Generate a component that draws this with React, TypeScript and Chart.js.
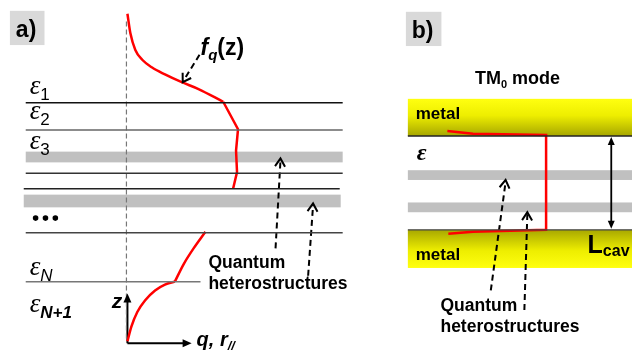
import React, { useEffect, useRef } from 'react';
import { Chart, registerables } from 'chart.js';
Chart.register(...registerables);

type P = [number, number];

// ---------- Panel a data (diagram units: x = q / r//, y = depth z, top-down) ----------
const boundaryZ = [101, 129, 173, 189, 234, 284];
const boundaryFrom = [22, 22, 22, 20, 22, 22];
const boundaryTo = [343, 343, 343, 340, 343, 199];
const qhBandTopA = [151, 195];
const qhBandBottomA = [162, 208];
const qhBandFromA = [22, 20];
const qhBandToA = [343, 341];

const fqDecayTop: P[] = [[125, 10], [128, 30], [133, 47], [140, 57], [150, 65], [163, 72], [180, 80], [197, 87], [222, 100]];
const fqInside: P[] = [[222, 100], [237, 128], [235, 150], [236, 172], [232, 189]];
const fqLowerA: P[] = [[204, 233], [192, 250], [182, 266], [173, 284]];
const fqLowerB: P[] = [[125, 345], [129, 330], [135, 315], [143, 303], [153, 293], [163, 287], [173, 284]];
const ellipsisDots: P[] = [[32, 219], [42, 219], [52, 219]];
const epsSubsA = ['1', '2', '3', 'N', 'N+1'];
const epsBaselineA = [92, 118, 148, 277, 315];

// ---------- Panel b data ----------
const metalTopB = [97, 135];
const metalBottomB = [231, 270];
const qhBandTopB = [170, 203];
const qhBandBottomB = [180, 213];
const tm0Profile: P[] = [[449, 130], [475, 132.6], [549, 134], [549, 231], [475, 233], [450, 235]];

const W = 636, H = 358;
const SANS = "'Liberation Sans', Arial, sans-serif";
const SERIF = "'Liberation Serif', 'DejaVu Serif', serif";

const pts = (a: P[]) => a.map(([x, y]) => ({ x, y }));
const seg = (data: P[], color: string, width: number, extra: any = {}) => ({
  data: pts(data), showLine: true, borderColor: color, borderWidth: width,
  pointRadius: 0, fill: false, tension: 0, ...extra,
});

const diagramPlugin = {
  id: 'diagram',
  beforeDatasetsDraw(chart: any) {
    const { ctx, scales } = chart;
    const px = (v: number) => scales.x.getPixelForValue(v);
    const py = (v: number) => scales.y.getPixelForValue(v);
    const rect = (x0: number, y0: number, x1: number, y1: number, fill: any) => {
      ctx.fillStyle = fill;
      ctx.fillRect(px(x0), py(y0), px(x1) - px(x0), py(y1) - py(y0));
    };
    ctx.save();
    rect(6, 7, 41, 42, '#d9d9d9');
    rect(407, 8, 443, 43, '#d9d9d9');
    qhBandTopA.forEach((t, i) => rect(qhBandFromA[i], t, qhBandToA[i], qhBandBottomA[i], '#c0c0c0'));
    qhBandTopB.forEach((t, i) => rect(409, t, 636, qhBandBottomB[i], '#c0c0c0'));
    const g1 = ctx.createLinearGradient(0, py(metalTopB[0]), 0, py(metalTopB[1]));
    g1.addColorStop(0, '#ffff10');
    g1.addColorStop(0.45, '#eeee00');
    g1.addColorStop(1, '#a6a600');
    rect(409, metalTopB[0], 636, metalTopB[1], g1);
    const g2 = ctx.createLinearGradient(0, py(metalBottomB[0]), 0, py(metalBottomB[1]));
    g2.addColorStop(0, '#a8a800');
    g2.addColorStop(0.55, '#eeee00');
    g2.addColorStop(1, '#ffff10');
    rect(409, metalBottomB[0], 636, metalBottomB[1], g2);
    ctx.restore();
  },
  afterDatasetsDraw(chart: any) {
    const { ctx, scales } = chart;
    const px = (v: number) => scales.x.getPixelForValue(v);
    const py = (v: number) => scales.y.getPixelForValue(v);
    ctx.save();
    const head = (x0: number, y0: number, x1: number, y1: number, filled: boolean, len = 9, half = 4.5) => {
      const ax = px(x0), ay = py(y0), bx = px(x1), by = py(y1);
      const d = Math.hypot(bx - ax, by - ay);
      const ux = (bx - ax) / d, uy = (by - ay) / d;
      const lx = bx - ux * len - uy * half, ly = by - uy * len + ux * half;
      const rx = bx - ux * len + uy * half, ry = by - uy * len - ux * half;
      ctx.setLineDash([]);
      ctx.strokeStyle = '#000';
      ctx.fillStyle = '#000';
      ctx.lineWidth = 2;
      ctx.beginPath();
      if (filled) {
        ctx.moveTo(bx, by); ctx.lineTo(lx, ly); ctx.lineTo(rx, ry); ctx.closePath(); ctx.fill();
      } else {
        ctx.moveTo(lx, ly); ctx.lineTo(bx, by); ctx.lineTo(rx, ry); ctx.stroke();
      }
    };
    head(198, 52, 181, 80, false, 8, 5);
    head(275, 250, 280, 158, false, 8, 5);
    head(308, 278, 313, 204, false, 8, 5);
    head(493, 293, 508, 180, false, 8, 5);
    head(527, 313, 530, 213, false, 8, 5);
    head(125, 347, 125, 296, true, 9, 4);
    head(125, 347, 190, 347, true, 9, 4);
    head(615, 180, 615, 136, true, 8, 3.5);
    head(615, 180, 615, 230, true, 8, 3.5);

    const runs = (x: number, y: number, parts: [string, string, number?][], color = '#000') => {
      let cx = px(x);
      ctx.fillStyle = color;
      ctx.textBaseline = 'alphabetic';
      ctx.textAlign = 'left';
      for (const [t, f, dy] of parts) {
        ctx.font = f;
        ctx.fillText(t, cx, py(y + (dy || 0)));
        cx += ctx.measureText(t).width;
      }
    };
    runs(12, 34, [['a)', `bold 23px ${SANS}`]]);
    runs(413, 35, [['b)', `bold 23px ${SANS}`]]);
    runs(199, 52, [['f', `italic bold 23px ${SANS}`], ['q', `italic bold 15px ${SANS}`, 5], ['(z)', `bold 23px ${SANS}`]]);
    epsSubsA.forEach((s, i) => {
      const sub = s.startsWith('N') ? (s === 'N' ? `italic 17px ${SANS}` : `italic bold 17px ${SANS}`) : `17px ${SANS}`;
      runs(26, epsBaselineA[i], [['ε', `italic 27px ${SERIF}`], [s, sub, 6]]);
    });
    runs(207, 270, [['Quantum', `bold 17.5px ${SANS}`]]);
    runs(207, 292, [['heterostructures', `bold 17.5px ${SANS}`]]);
    runs(109, 311, [['z', `italic bold 21px ${SANS}`]]);
    runs(195, 350, [['q, r', `italic bold 20px ${SANS}`], ['//', `italic bold 13px ${SANS}`, 4]]);
    runs(477, 82, [['TM', `bold 18px ${SANS}`], ['0', `bold 11px ${SANS}`, 4], [' mode', `bold 18px ${SANS}`]]);
    runs(417, 118, [['metal', `bold 17px ${SANS}`]]);
    runs(417, 262, [['metal', `bold 17px ${SANS}`]]);
    runs(418, 160, [['ε', `italic bold 24px ${SERIF}`]]);
    runs(591, 255, [['L', `bold 25px ${SANS}`], ['cav', `bold 16px ${SANS}`, 3]]);
    runs(442, 314, [['Quantum', `bold 17.5px ${SANS}`]]);
    runs(442, 335, [['heterostructures', `bold 17.5px ${SANS}`]]);
    ctx.restore();
  },
};

export default function App() {
  const ref = useRef<HTMLCanvasElement>(null);
  useEffect(() => {
    if (!ref.current) return;
    const boundaryColors = ['#111', '#666', '#333', '#222', '#444', '#777'];
    const datasets: any[] = [];
    boundaryZ.forEach((z, i) => datasets.push(seg([[boundaryFrom[i], z], [boundaryTo[i], z]], boundaryColors[i], 1.5)));
    datasets.push(seg([[124, 18], [124, 345]], '#777', 1.2, { borderDash: [5, 3] }));
    datasets.push(seg(fqDecayTop, '#ff0000', 2.5, { cubicInterpolationMode: 'monotone' }));
    datasets.push(seg(fqInside, '#ff0000', 2.5));
    datasets.push(seg(fqLowerA, '#ff0000', 2.5, { tension: 0.3 }));
    datasets.push(seg(fqLowerB, '#ff0000', 2.5, { cubicInterpolationMode: 'monotone' }));
    datasets.push(seg([[125, 347], [125, 300]], '#000', 2));
    datasets.push(seg([[125, 347], [186, 347]], '#000', 2));
    datasets.push(seg([[198, 52], [182, 78]], '#000', 2, { borderDash: [6, 4] }));
    datasets.push(seg([[275, 250], [280, 160]], '#000', 2, { borderDash: [6, 4] }));
    datasets.push(seg([[308, 278], [313, 206]], '#000', 2, { borderDash: [6, 4] }));
    datasets.push({ data: pts(ellipsisDots), showLine: false, pointRadius: 2.8, pointBackgroundColor: '#000', pointBorderWidth: 0 });
    datasets.push(seg([[409, metalTopB[1]], [636, metalTopB[1]]], '#222', 1.3));
    datasets.push(seg([[409, metalBottomB[0]], [636, metalBottomB[0]]], '#444', 1.3));
    datasets.push(seg(tm0Profile, '#ff0000', 2.5));
    datasets.push(seg([[615, 140], [615, 226]], '#000', 1.8));
    datasets.push(seg([[493, 293], [508, 182]], '#000', 2, { borderDash: [6, 4] }));
    datasets.push(seg([[527, 313], [530, 215]], '#000', 2, { borderDash: [6, 4] }));

    const chart = new Chart(ref.current, {
      type: 'scatter',
      data: { datasets },
      options: {
        animation: false,
        responsive: false,
        events: [],
        layout: { padding: 0 },
        scales: {
          x: { type: 'linear', min: 0, max: W, display: false },
          y: { type: 'linear', min: 0, max: H, reverse: true, display: false },
        },
        plugins: { legend: { display: false }, tooltip: { enabled: false } },
      },
      plugins: [diagramPlugin],
    } as any);
    return () => chart.destroy();
  }, []);
  return (
    <div style={{ position: 'fixed', left: 0, top: 0, width: W, height: H, background: '#fff' }}>
      <canvas ref={ref} width={W} height={H} style={{ display: 'block' }} />
    </div>
  );
}
